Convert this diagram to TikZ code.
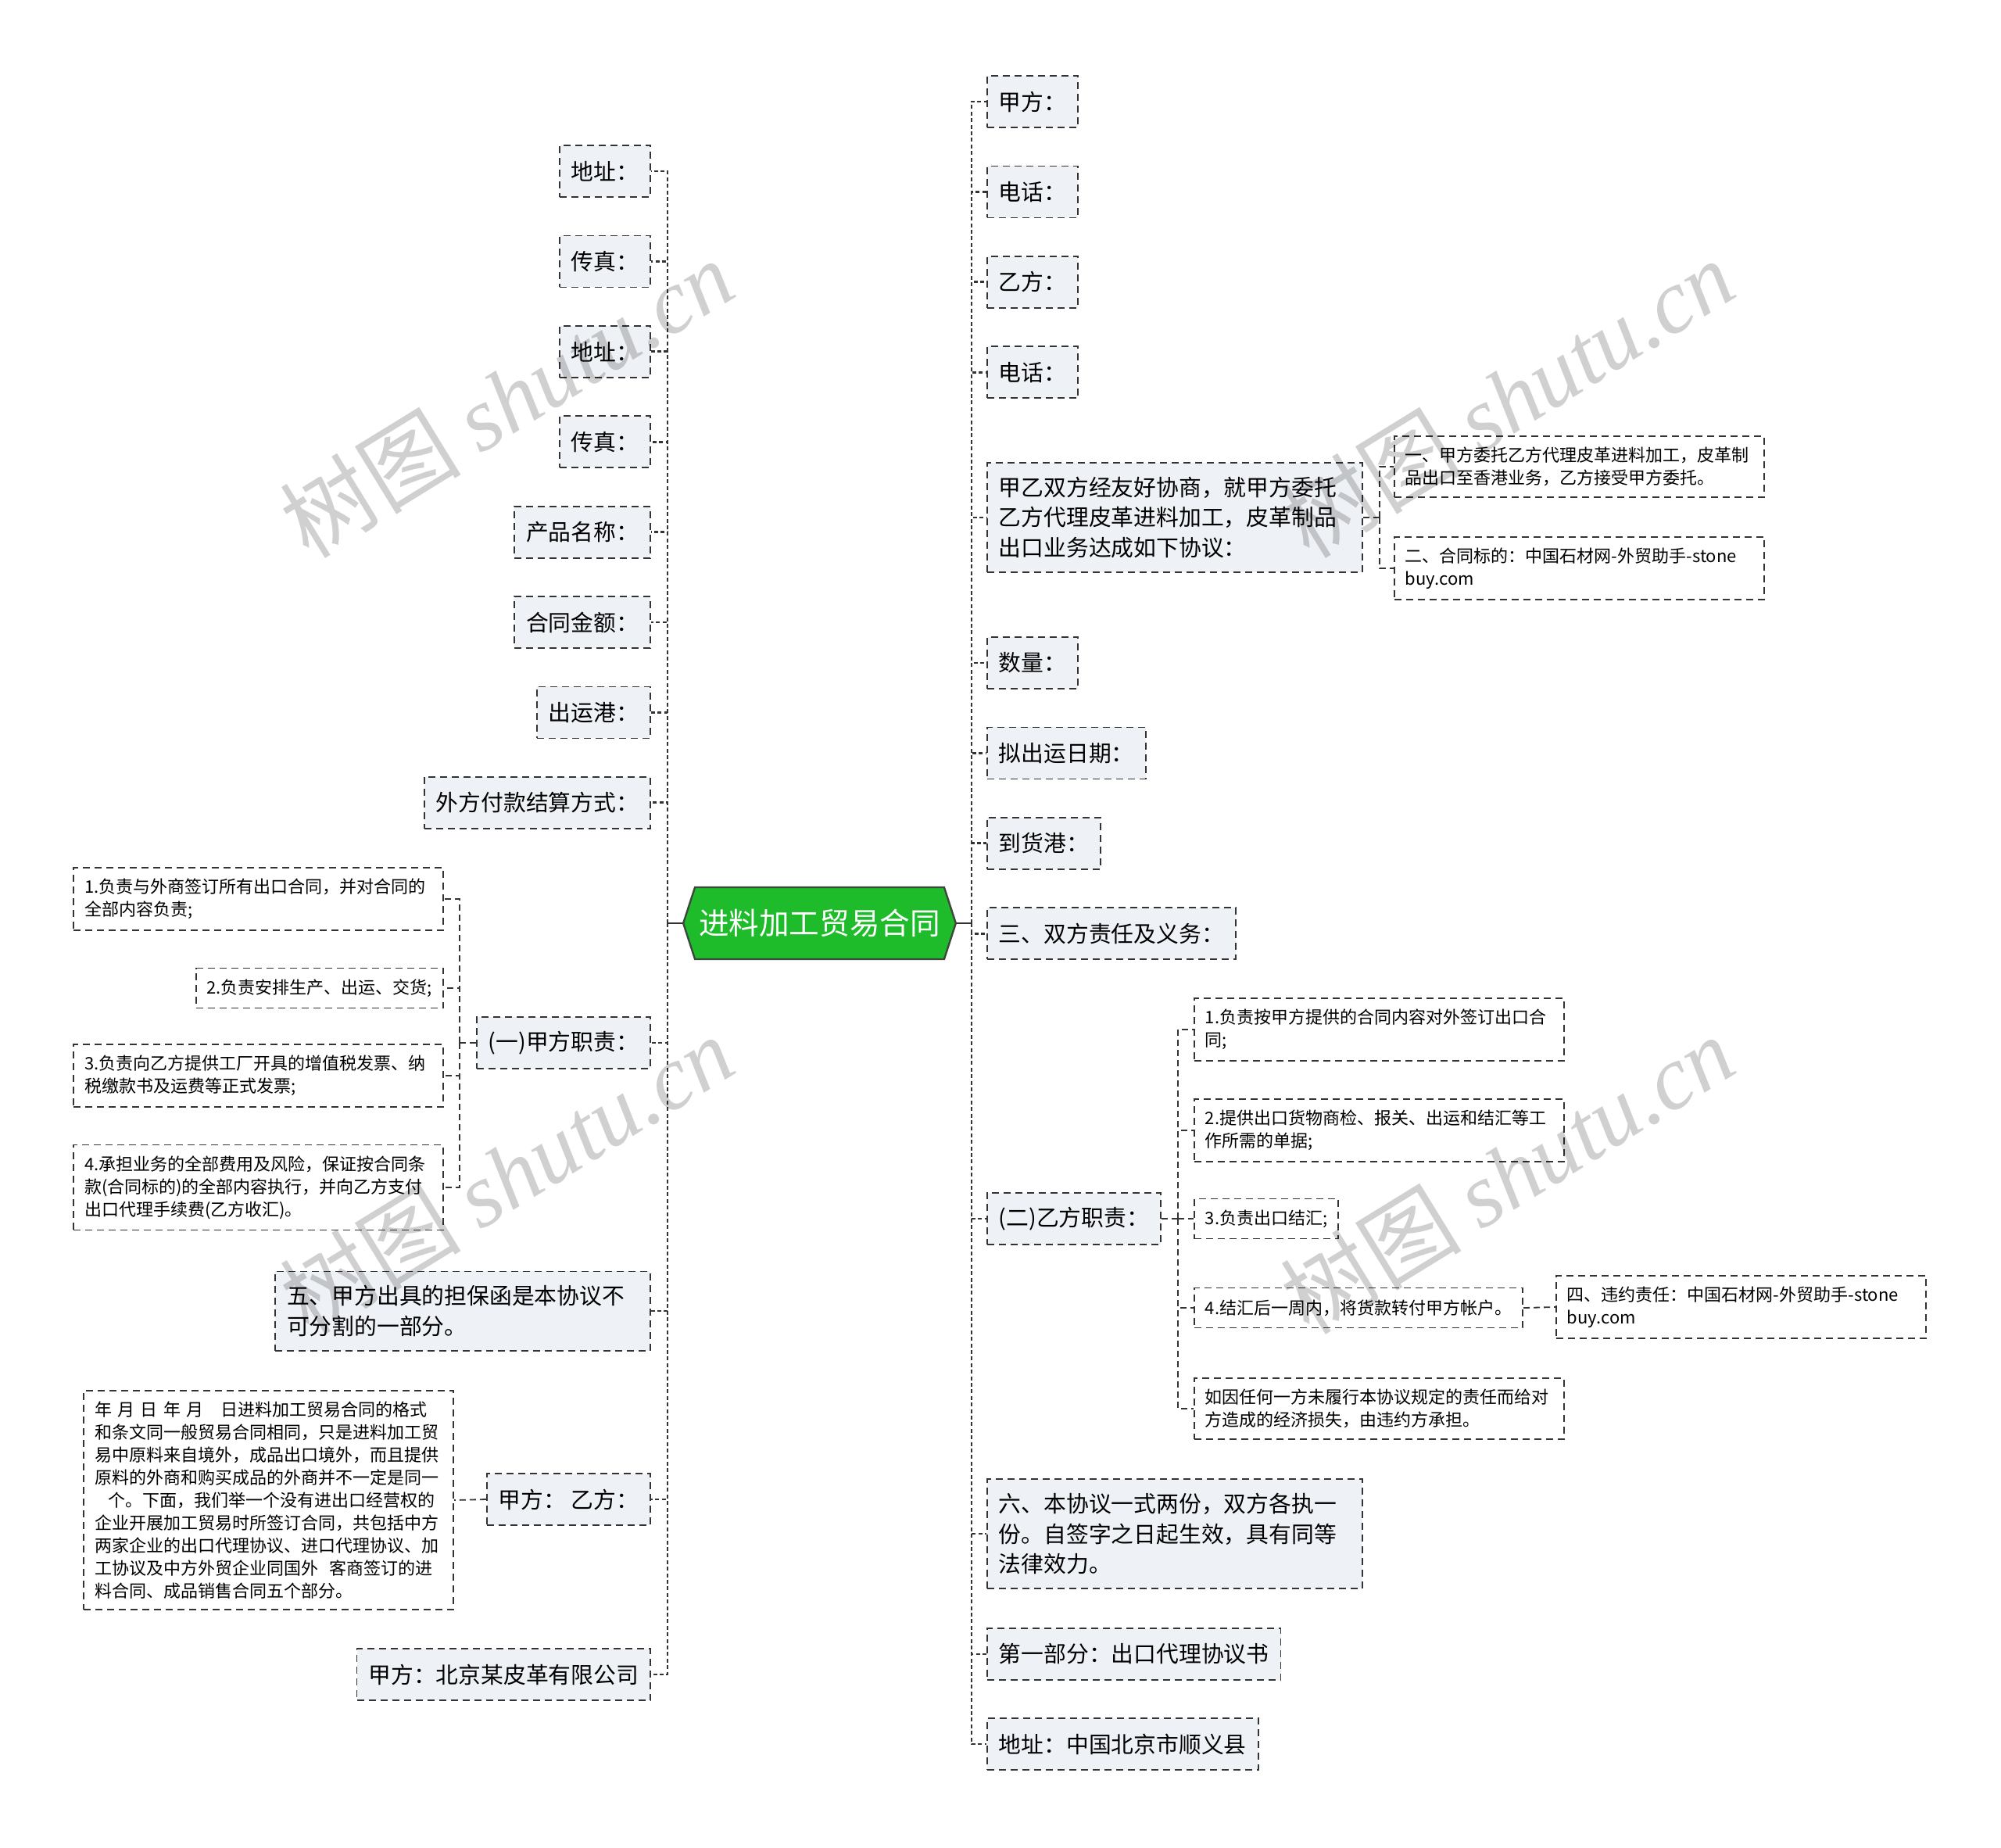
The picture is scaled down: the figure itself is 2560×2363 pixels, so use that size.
\documentclass[tikz,border=0pt]{standalone}
\usepackage{fontspec}
\setmainfont{Noto Sans CJK SC}
\newfontfamily\wmlatin{Liberation Serif}
\usetikzlibrary{shapes.symbols}
\definecolor{linec}{RGB}{51,51,51}
\definecolor{topicfill}{RGB}{238,241,245}
\definecolor{rootgreen}{RGB}{30,188,42}
\definecolor{rootedge}{RGB}{60,72,60}
\definecolor{wmgray}{RGB}{208,208,208}
\def\branch{21}
\tikzset{
  topic/.style={draw=linec, dash pattern=on 4.5pt off 3pt, line width=0.9pt, fill=topicfill,
    inner xsep=7.5pt, inner ysep=9pt, minimum height=33pt, align=left,
    font=\fontsize{14.4pt}{19.2pt}\selectfont},
  leaf/.style={topic, fill=white, inner xsep=7pt, inner ysep=7pt, minimum height=25.5pt,
    font=\fontsize{11pt}{14.5pt}\selectfont},
  wrap/.style={text width=225pt},
  wide/.style={text width=222.5pt},
  rootnode/.style={signal, signal to=west and east, signal pointer angle=144, fill=rootgreen,
    draw=rootedge, line width=1.2pt, text=white, inner xsep=2.5pt, minimum height=46pt,
    font=\fontsize{19.3pt}{22pt}\selectfont},
  stub/.style={draw=linec, line width=1.3pt},
  trunk/.style={draw=linec, line width=1.4pt, dash pattern=on 2.5pt off 1.7pt},
  twig/.style={draw=linec, line width=0.9pt, dash pattern=on 4pt off 2.5pt},
  wm/.style={text=wmgray, rotate=31.6, font=\fontsize{58pt}{60pt}\selectfont}
}

\begin{document}
\begin{tikzpicture}[x=0.5pt, y=-0.5pt]
  \fill[white] (0,0) rectangle (2560,2363);
  \clip (0,0) rectangle (2560,2363);

  % Root
  \node[rootnode] (root) at (1048.5,1181) {进料加工贸易合同};
  \coordinate (ltr) at (854,1181);
  \coordinate (rtr) at (1243,1181);
  \draw[stub] (root.west) -- (ltr);
  \draw[stub] (root.east) -- (rtr);

  % Left side
  \foreach \t [count=\i] in {地址：,传真：,地址：,传真：,产品名称：,合同金额：,出运港：,外方付款结算方式：}{
    \node[topic, anchor=east] (l\i) at (833,{219+115.4*(\i-1)}) {\t};
    \draw[trunk] (ltr) |- (l\i.east);
  }
  \node[topic, anchor=east] (l9) at (833,1334) {(一)甲方职责：};
  \node[topic, wrap, anchor=east] (l10) at (833,1677) {五、甲方出具的担保函是本协议不\\可分割的一部分。};
  \node[topic, anchor=east] (l11) at (833,1918) {甲方：\ 乙方：};
  \node[topic, anchor=east] (l12) at (833,2142) {甲方：北京某皮革有限公司};
  \foreach \n in {l9,l10,l11,l12}
    \draw[trunk] (ltr) |- (\n.east);

  \node[leaf, wide, anchor=east] (l9a) at (568,1150) {1.负责与外商签订所有出口合同，并对合同的\\全部内容负责;};
  \node[leaf, anchor=east] (l9b) at (568,1264) {2.负责安排生产、出运、交货;};
  \node[leaf, wide, anchor=east] (l9c) at (568,1376) {3.负责向乙方提供工厂开具的增值税发票、纳\\税缴款书及运费等正式发票;};
  \node[leaf, wide, anchor=east] (l9d) at (568,1519) {4.承担业务的全部费用及风险，保证按合同条\\款(合同标的)的全部内容执行，并向乙方支付\\出口代理手续费(乙方收汇)。};
  \draw[twig] (l9.west) -- ++(-\branch,0) coordinate (l9t);
  \foreach \n in {l9a,l9b,l9c,l9d}
    \draw[twig] (l9t) |- (\n.east);

  \node[leaf, wide, anchor=east] (l11a) at (581,1919) {年 月 日 年 月　日进料加工贸易合同的格式\\和条文同一般贸易合同相同，只是进料加工贸\\易中原料来自境外，成品出口境外，而且提供\\原料的外商和购买成品的外商并不一定是同一\\\hspace*{0.8em}个。下面，我们举一个没有进出口经营权的\\企业开展加工贸易时所签订合同，共包括中方\\两家企业的出口代理协议、进口代理协议、加\\工协议及中方外贸企业同国外\ \ 客商签订的进\\料合同、成品销售合同五个部分。};
  \draw[twig] (l11.west) -- (l11a.east);

  % Right side
  \foreach \t [count=\i] in {甲方：,电话：,乙方：,电话：}{
    \node[topic, anchor=west] (r\i) at (1262,{130+115.4*(\i-1)}) {\t};
    \draw[trunk] (rtr) |- (r\i.west);
  }
  \foreach \t [count=\i from 6] in {数量：,拟出运日期：,到货港：,三、双方责任及义务：}{
    \node[topic, anchor=west] (r\i) at (1262,{848+115.4*(\i-6)}) {\t};
    \draw[trunk] (rtr) |- (r\i.west);
  }
  \node[topic, wrap, anchor=west] (r5) at (1262,662) {甲乙双方经友好协商，就甲方委托\\乙方代理皮革进料加工，皮革制品\\出口业务达成如下协议：};
  \node[topic, anchor=west] (r10) at (1262,1559) {(二)乙方职责：};
  \node[topic, wrap, anchor=west] (r11) at (1262,1962) {六、本协议一式两份，双方各执一\\份。自签字之日起生效，具有同等\\法律效力。};
  \node[topic, anchor=west] (r12) at (1262,2116) {第一部分：出口代理协议书};
  \node[topic, anchor=west] (r13) at (1262,2231) {地址：中国北京市顺义县};
  \foreach \n in {r5,r10,r11,r12,r13}
    \draw[trunk] (rtr) |- (\n.west);

  \node[leaf, wide, anchor=west] (r5a) at (1783,597) {一、甲方委托乙方代理皮革进料加工，皮革制\\品出口至香港业务，乙方接受甲方委托。};
  \node[leaf, wide, anchor=west] (r5b) at (1783,727) {二、合同标的：中国石材网-外贸助手-stone\\buy.com};
  \draw[twig] (r5.east) -- ++(\branch,0) coordinate (r5t);
  \foreach \n in {r5a,r5b}
    \draw[twig] (r5t) |- (\n.west);

  \node[leaf, wide, anchor=west] (r10a) at (1527,1317) {1.负责按甲方提供的合同内容对外签订出口合\\同;};
  \node[leaf, wide, anchor=west] (r10b) at (1527,1446) {2.提供出口货物商检、报关、出运和结汇等工\\作所需的单据;};
  \node[leaf, anchor=west] (r10c) at (1527,1559) {3.负责出口结汇;};
  \node[leaf, anchor=west] (r10d) at (1527,1673) {4.结汇后一周内，将货款转付甲方帐户。};
  \node[leaf, wide, anchor=west] (r10e) at (1527,1802) {如因任何一方未履行本协议规定的责任而给对\\方造成的经济损失，由违约方承担。};
  \draw[twig] (r10.east) -- ++(\branch,0) coordinate (r10t);
  \foreach \n in {r10a,r10b,r10c,r10d,r10e}
    \draw[twig] (r10t) |- (\n.west);

  \node[leaf, wide, anchor=west] (r10d1) at (1990,1672) {四、违约责任：中国石材网-外贸助手-stone\\buy.com};
  \draw[twig] (r10d.east) -- (r10d1.west);

  % Watermark
  \begin{scope}[blend mode=multiply]
    \foreach \wx in {648,1928}
      \foreach \wy in {509,1502}
        \node[wm] (wm-\wx-\wy) at (\wx,\wy) {树图 {\wmlatin\itshape shutu.cn}};
  \end{scope}
\end{tikzpicture}
\end{document}
